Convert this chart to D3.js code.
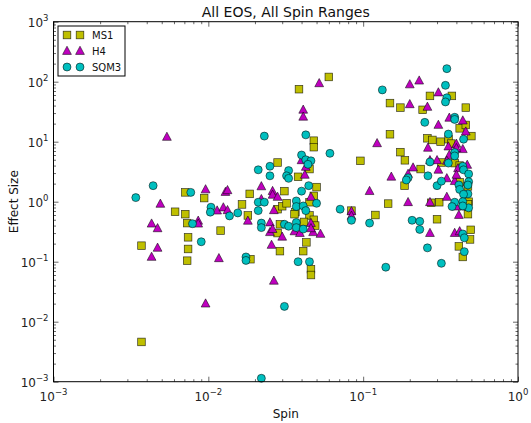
<!DOCTYPE html>
<html>
<head>
<meta charset="utf-8">
<script src="https://cdn.jsdelivr.net/npm/d3@7"></script>
<style>
  body { margin: 0; background: #fff; }
  svg { font-family: "DejaVu Sans", sans-serif; }
</style>
</head>
<body>
<div id="vis"></div>
<script>
// spin (x) and effect size (y) per EOS
const ms1Spin = [0.0037, 0.0037, 0.0061, 0.0071, 0.0071, 0.0073, 0.0074, 0.0074, 0.0073, 0.0094,
  0.012, 0.0165, 0.0185, 0.018, 0.0187, 0.028, 0.030, 0.032, 0.031, 0.028,
  0.029, 0.028, 0.029, 0.0365, 0.036, 0.038, 0.0385, 0.06, 0.048, 0.048,
  0.045, 0.05, 0.048, 0.045, 0.045, 0.0415, 0.048, 0.049, 0.043, 0.041,
  0.046, 0.046, 0.096, 0.084, 0.12, 0.145, 0.149, 0.174, 0.149, 0.174,
  0.186, 0.185, 0.242, 0.27, 0.374, 0.46, 0.42, 0.46, 0.5, 0.26,
  0.28, 0.316, 0.356, 0.37, 0.235, 0.32, 0.39, 0.42, 0.42, 0.31,
  0.275, 0.48, 0.475, 0.475, 0.30, 0.495, 0.49, 0.415, 0.44, 0.475];
const ms1Effect = [0.185, 0.0046, 0.68, 0.62, 1.43, 0.44, 0.255, 0.163, 0.104, 1.15,
  0.33, 0.9, 1.35, 0.59, 0.11, 0.75, 0.84, 0.94, 1.5, 4.5,
  0.42, 0.3, 0.15, 0.67, 0.62, 2.6, 75, 120, 10.4, 8.1,
  3.5, 1.75, 1.25, 0.98, 0.59, 0.46, 0.5, 0.4, 0.21, 0.15,
  0.075, 0.06, 4.8, 0.71, 0.6, 0.93, 44, 37, 13.3, 6.7,
  4.9, 1.85, 34, 58, 58, 37, 16.7, 19, 12.4, 11.4,
  10.7, 10, 11, 9.3, 3.5, 4.5, 4.4, 4.0, 2.1, 0.98,
  0.96, 1.0, 0.9, 0.62, 0.51, 0.34, 0.235, 0.18, 0.12, 1.8];

const h4Spin = [0.0054, 0.0049, 0.0043, 0.0047, 0.0047, 0.0043, 0.0086, 0.0086, 0.0096, 0.0096,
  0.0117, 0.0114, 0.0125, 0.0133, 0.0129, 0.0133, 0.018, 0.022, 0.026, 0.026,
  0.028, 0.0265, 0.025, 0.025, 0.026, 0.03, 0.0256, 0.0265, 0.036, 0.039,
  0.0475, 0.053, 0.046, 0.046, 0.046, 0.042, 0.0426, 0.040, 0.041, 0.041,
  0.052, 0.084, 0.084, 0.11, 0.123, 0.152, 0.2, 0.23, 0.2, 0.26,
  0.306, 0.306, 0.36, 0.44, 0.46, 0.262, 0.21, 0.195, 0.27, 0.30,
  0.306, 0.347, 0.36, 0.347, 0.355, 0.40, 0.44, 0.40, 0.41, 0.47,
  0.39, 0.40, 0.347, 0.27, 0.195, 0.415, 0.44, 0.40, 0.27, 0.39,
  0.42, 0.022];
const h4Effect = [12, 0.92, 0.43, 0.36, 0.17, 0.12, 0.48, 0.43, 1.6, 0.02,
  0.114, 0.71, 0.8, 0.72, 1.45, 1.55, 0.48, 1.8, 1.5, 1.3,
  1.2, 0.72, 0.45, 0.31, 0.35, 0.26, 0.19, 0.048, 0.32, 0.3,
  0.31, 0.29, 0.44, 0.36, 1.2, 2.8, 3.8, 4.9, 34, 26,
  94, 0.69, 0.58, 1.5, 9.4, 2.6, 90, 104, 42, 38,
  66, 19, 25, 22.5, 14.7, 7.9, 3.7, 2.9, 4.9, 4.9,
  3.4, 2.45, 6.0, 4.8, 8.3, 9.2, 7.5, 7.8, 3.6, 4.1,
  2.2, 2.8, 1.2, 0.98, 0.98, 0.6, 0.83, 0.83, 0.3, 0.3,
  0.32, 1.1];

const sqm3Spin = [0.0034, 0.0044, 0.0077, 0.0079, 0.009, 0.0104, 0.0103, 0.0137, 0.0155, 0.0175,
  0.0175, 0.021, 0.023, 0.021, 0.022, 0.022, 0.021, 0.023, 0.025, 0.025,
  0.033, 0.032, 0.033, 0.031, 0.033, 0.037, 0.037, 0.041, 0.0426, 0.05,
  0.037, 0.037, 0.041, 0.038, 0.045, 0.031, 0.022, 0.040, 0.0445, 0.040,
  0.0426, 0.046, 0.044, 0.0426, 0.061, 0.071, 0.084, 0.11, 0.14, 0.133,
  0.347, 0.34, 0.347, 0.34, 0.25, 0.39, 0.39, 0.445, 0.355, 0.195,
  0.19, 0.262, 0.27, 0.3, 0.32, 0.355, 0.39, 0.39, 0.44, 0.445,
  0.48, 0.48, 0.415, 0.42, 0.475, 0.475, 0.445, 0.39, 0.44, 0.375,
  0.48, 0.44, 0.207, 0.232, 0.232, 0.26, 0.32, 0.44, 0.45, 0.45];
const sqm3Effect = [1.17, 1.85, 1.43, 0.43, 0.215, 0.81, 0.67, 0.58, 0.65, 0.12,
  0.105, 0.98, 0.98, 0.71, 0.44, 0.37, 3.4, 12.4, 3.9, 2.7,
  3.3, 2.7, 2.45, 0.42, 0.39, 1.03, 0.83, 0.85, 0.71, 0.94,
  0.45, 0.37, 0.35, 0.1, 0.1, 0.018, 0.00114, 1.5, 1.85, 6.0,
  5.0, 4.8, 4.2, 13, 6.4, 0.75, 0.49, 0.44, 0.081, 73,
  165, 87, 54, 46, 21, 25.5, 23.5, 11, 13.4, 2.5,
  2.3, 2.7, 4.6, 1.85, 2.2, 4.4, 6.6, 5.8, 3.9, 3.4,
  2.9, 2.15, 1.9, 1.6, 1.9, 1.35, 1.33, 0.98, 1.0, 0.83,
  0.79, 0.85, 0.49, 0.47, 0.345, 0.17, 0.094, 0.29, 0.25, 0.147];

const xMajors = [1e-3, 1e-2, 1e-1, 1];
const xExps = ["-3", "-2", "-1", "0"];
const yMajors = [1e-3, 1e-2, 1e-1, 1, 10, 100, 1000];
const yExps = ["-3", "-2", "-1", "0", "1", "2", "3"];

const seriesNames = ["MS1", "H4", "SQM3"];
const seriesColors = ["#bfbf00", "#bf00bf", "#00bfbf"];

const W = 531, H = 423;
const margin = { left: 53.5, right: 13, top: 21.7, bottom: 41.3 };

const svg = d3.select("#vis").append("svg")
  .attr("width", W).attr("height", H);

const x = d3.scaleLog().domain([1e-3, 1]).range([margin.left, W - margin.right]);
const y = d3.scaleLog().domain([1e-3, 1e3]).range([H - margin.bottom, margin.top]);

function minorsOf(majors) {
  let out = [];
  for (let i = 0; i < majors.length - 1; i++)
    for (let k = 2; k <= 9; k++) out.push(majors[i] * k);
  return out;
}

// ticks pointing inward on all four sides
function tickAxes(axisFn, scale, majors, transform) {
  const gMaj = svg.append("g").attr("transform", transform)
    .call(axisFn(scale).tickValues(majors).tickSize(-5).tickFormat(""));
  const gMin = svg.append("g").attr("transform", transform)
    .call(axisFn(scale).tickValues(minorsOf(majors)).tickSize(-2.5).tickFormat(""));
  [gMaj, gMin].forEach(g => {
    g.select(".domain").remove();
    g.selectAll("line").attr("stroke", "#000").attr("stroke-width", 0.6);
  });
}
const x0 = margin.left, x1 = W - margin.right, y0 = H - margin.bottom, y1 = margin.top;
tickAxes(d3.axisBottom, x, xMajors, `translate(0,${y0})`);
tickAxes(d3.axisTop, x, xMajors, `translate(0,${y1})`);
tickAxes(d3.axisLeft, y, yMajors, `translate(${x0},0)`);
tickAxes(d3.axisRight, y, yMajors, `translate(${x1},0)`);

// tick labels as 10^n
xMajors.forEach((v, i) => {
  const t = svg.append("text").attr("x", x(v)).attr("y", y0 + 19)
    .attr("text-anchor", "middle").attr("font-size", 12).attr("fill", "#222");
  t.append("tspan").text("10");
  t.append("tspan").attr("dy", -6).attr("font-size", 8.5).text(xExps[i].replace("-", "\u2212"));
});
yMajors.forEach((v, i) => {
  const t = svg.append("text").attr("x", x0 - 5).attr("y", y(v) + 5)
    .attr("text-anchor", "end").attr("font-size", 12).attr("fill", "#222");
  t.append("tspan").text("10");
  t.append("tspan").attr("dy", -6).attr("font-size", 8.5).text(yExps[i].replace("-", "\u2212"));
});

// markers
function drawMarker(g, kind, cx, cy, color) {
  const st = s => s.attr("fill", color).attr("stroke", "#000")
    .attr("stroke-width", 0.7).attr("stroke-opacity", 0.75);
  if (kind === 0) {
    st(g.append("rect").attr("x", cx - 3.8).attr("y", cy - 3.8).attr("width", 7.6).attr("height", 7.6));
  } else if (kind === 1) {
    st(g.append("path").attr("d", `M${cx},${cy - 4.8}L${cx + 4.4},${cy + 3.4}L${cx - 4.4},${cy + 3.4}Z`));
  } else {
    st(g.append("circle").attr("cx", cx).attr("cy", cy).attr("r", 4));
  }
}

const allSpin = [ms1Spin, h4Spin, sqm3Spin];
const allEffect = [ms1Effect, h4Effect, sqm3Effect];
const plot = svg.append("g");
allSpin.forEach((xs, s) => {
  xs.forEach((v, i) => drawMarker(plot, s, x(v), y(allEffect[s][i]), seriesColors[s]));
});

// frame
svg.append("rect").attr("x", x0).attr("y", y1)
  .attr("width", x1 - x0).attr("height", y0 - y1)
  .attr("fill", "none").attr("stroke", "#000").attr("stroke-width", 1);

// title and axis labels
svg.append("text").attr("x", (x0 + x1) / 2).attr("y", 17)
  .attr("text-anchor", "middle").attr("font-size", 14).attr("fill", "#111")
  .text("All EOS, All Spin Ranges");
svg.append("text").attr("x", (x0 + x1) / 2).attr("y", 418)
  .attr("text-anchor", "middle").attr("font-size", 12).attr("fill", "#111")
  .text("Spin");
svg.append("text").attr("transform", `translate(18,${(y0 + y1) / 2}) rotate(-90)`)
  .attr("text-anchor", "middle").attr("font-size", 12).attr("fill", "#111")
  .text("Effect Size");

// legend
const lg = svg.append("g");
lg.append("rect").attr("x", 58).attr("y", 26).attr("width", 67).attr("height", 50)
  .attr("fill", "#fff").attr("stroke", "#000").attr("stroke-width", 1);
seriesNames.forEach((name, i) => {
  const ly = 35 + i * 16;
  drawMarker(lg, i, 67, ly, seriesColors[i]);
  drawMarker(lg, i, 80, ly, seriesColors[i]);
  lg.append("text").attr("x", 92).attr("y", ly + 3.5)
    .attr("font-size", 10).attr("fill", "#111").text(name);
});
</script>
</body>
</html>
